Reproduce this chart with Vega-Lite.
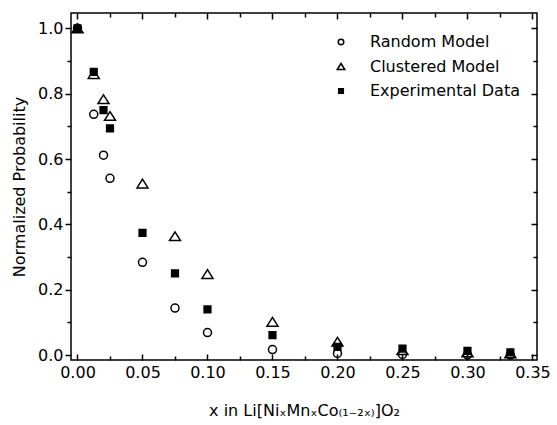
{
  "$schema": "https://vega.github.io/schema/vega-lite/v6.json",
  "autosize": {"type": "none"},
  "padding": {"left": 71, "top": 13, "right": 20, "bottom": 65},
  "width": 466,
  "height": 347,
  "background": "white",
  "config": {
    "font": "DejaVu Sans",
    "view": {"stroke": "black", "strokeWidth": 1.5},
    "axis": {"grid": false, "domain": false, "ticks": true, "tickColor": "#000000", "tickWidth": 1.5, "tickOpacity": 1, "labelColor": "black", "titleColor": "black", "labelFontSize": 16, "titleFontSize": 16, "titleFontWeight": "normal", "labelOverlap": false, "labelFlush": false}
  },
  "data": {
    "values": [
      {"x": 0, "y": 1.0, "series": "Random Model"},
      {"x": 0.0125, "y": 0.737, "series": "Random Model"},
      {"x": 0.02, "y": 0.612, "series": "Random Model"},
      {"x": 0.025, "y": 0.541, "series": "Random Model"},
      {"x": 0.05, "y": 0.284, "series": "Random Model"},
      {"x": 0.075, "y": 0.144, "series": "Random Model"},
      {"x": 0.1, "y": 0.069, "series": "Random Model"},
      {"x": 0.15, "y": 0.017, "series": "Random Model"},
      {"x": 0.2, "y": 0.005, "series": "Random Model"},
      {"x": 0.25, "y": 0.002, "series": "Random Model"},
      {"x": 0.3, "y": 0.001, "series": "Random Model"},
      {"x": 0.333, "y": 0.0, "series": "Random Model"},
      {"x": 0, "y": 1.0, "series": "Clustered Model"},
      {"x": 0.0125, "y": 0.86, "series": "Clustered Model"},
      {"x": 0.02, "y": 0.783, "series": "Clustered Model"},
      {"x": 0.025, "y": 0.732, "series": "Clustered Model"},
      {"x": 0.05, "y": 0.525, "series": "Clustered Model"},
      {"x": 0.075, "y": 0.364, "series": "Clustered Model"},
      {"x": 0.1, "y": 0.248, "series": "Clustered Model"},
      {"x": 0.15, "y": 0.102, "series": "Clustered Model"},
      {"x": 0.2, "y": 0.041, "series": "Clustered Model"},
      {"x": 0.25, "y": 0.015, "series": "Clustered Model"},
      {"x": 0.3, "y": 0.008, "series": "Clustered Model"},
      {"x": 0.333, "y": 0.005, "series": "Clustered Model"},
      {"x": 0, "y": 1.0, "series": "Experimental Data"},
      {"x": 0.0125, "y": 0.867, "series": "Experimental Data"},
      {"x": 0.02, "y": 0.75, "series": "Experimental Data"},
      {"x": 0.025, "y": 0.694, "series": "Experimental Data"},
      {"x": 0.05, "y": 0.374, "series": "Experimental Data"},
      {"x": 0.075, "y": 0.25, "series": "Experimental Data"},
      {"x": 0.1, "y": 0.14, "series": "Experimental Data"},
      {"x": 0.15, "y": 0.061, "series": "Experimental Data"},
      {"x": 0.2, "y": 0.025, "series": "Experimental Data"},
      {"x": 0.25, "y": 0.02, "series": "Experimental Data"},
      {"x": 0.3, "y": 0.013, "series": "Experimental Data"},
      {"x": 0.333, "y": 0.008, "series": "Experimental Data"}
    ]
  },
  "layer": [
    {
      "mark": {"type": "point", "filled": false, "strokeWidth": 1.5, "opacity": 1, "size": 64},
      "encoding": {
        "x": {
          "field": "x", "type": "quantitative",
          "scale": {"domain": [-0.005, 0.3535], "nice": false, "zero": false},
          "axis": {
            "orient": "bottom",
            "title": "x in Li[NiₓMnₓCo₍₁₋₂ₓ₎]O₂",
            "titlePadding": 22,
            "values": [0, 0.05, 0.1, 0.15, 0.2, 0.25, 0.3, 0.35],
            "format": ".2f",
            "tickSize": -6,
            "labelPadding": 10
          }
        },
        "y": {
          "field": "y", "type": "quantitative",
          "scale": {"domain": [-0.015, 1.047], "nice": false, "zero": false},
          "axis": {
            "orient": "left",
            "title": "Normalized Probability",
            "titlePadding": 10,
            "values": [0, 0.2, 0.4, 0.6, 0.8, 1.0],
            "format": ".1f",
            "tickSize": 6,
            "labelPadding": 2
          }
        },
        "shape": {
          "field": "series", "type": "nominal",
          "scale": {"domain": ["Random Model", "Clustered Model", "Experimental Data"], "range": ["circle", "M0,-1.09L1.375,1.09L-1.375,1.09Z", "M-0.84,-0.84H0.84V0.84H-0.84Z"]},
          "legend": {"title": null, "orient": "none", "legendX": 262, "legendY": 21, "symbolSize": 30, "symbolStrokeWidth": 1.5, "labelFontSize": 16, "labelOffset": 21, "rowPadding": 8.5, "padding": 0, "labelColor": "black"}
        },
        "fill": {
          "field": "series", "type": "nominal",
          "scale": {"domain": ["Random Model", "Clustered Model", "Experimental Data"], "range": ["transparent", "transparent", "black"]},
          "legend": {"title": null, "orient": "none", "legendX": 262, "legendY": 21, "symbolSize": 30, "symbolStrokeWidth": 1.5, "labelFontSize": 16, "labelOffset": 21, "rowPadding": 8.5, "padding": 0, "labelColor": "black"}
        },
        "stroke": {
          "field": "series", "type": "nominal",
          "scale": {"domain": ["Random Model", "Clustered Model", "Experimental Data"], "range": ["black", "black", "black"]},
          "legend": {"title": null, "orient": "none", "legendX": 262, "legendY": 21, "symbolSize": 30, "symbolStrokeWidth": 1.5, "labelFontSize": 16, "labelOffset": 21, "rowPadding": 8.5, "padding": 0, "labelColor": "black"}
        }
      }
    },
    {
      "mark": {"type": "point", "opacity": 0},
      "encoding": {
        "x": {
          "field": "x", "type": "quantitative",
          "axis": {"orient": "bottom", "title": null, "labels": false, "values": [0.025, 0.075, 0.125, 0.175, 0.225, 0.275, 0.325], "tickSize": -4}
        },
        "y": {
          "field": "y", "type": "quantitative",
          "axis": {"orient": "left", "title": null, "labels": false, "values": [0.1, 0.3, 0.5, 0.7, 0.9], "tickSize": 4}
        }
      }
    },
    {
      "mark": {"type": "point", "opacity": 0},
      "encoding": {
        "x": {
          "field": "x", "type": "quantitative",
          "axis": {"orient": "top", "title": null, "labels": false, "values": [0, 0.05, 0.1, 0.15, 0.2, 0.25, 0.3, 0.35], "tickSize": -6}
        },
        "y": {
          "field": "y", "type": "quantitative",
          "axis": {"orient": "right", "title": null, "labels": false, "values": [0, 0.2, 0.4, 0.6, 0.8, 1.0], "tickSize": -6}
        }
      }
    },
    {
      "mark": {"type": "point", "opacity": 0},
      "encoding": {
        "x": {
          "field": "x", "type": "quantitative",
          "axis": {"orient": "top", "title": null, "labels": false, "values": [0.025, 0.075, 0.125, 0.175, 0.225, 0.275, 0.325], "tickSize": -4}
        },
        "y": {
          "field": "y", "type": "quantitative",
          "axis": {"orient": "right", "title": null, "labels": false, "values": [0.1, 0.3, 0.5, 0.7, 0.9], "tickSize": -4}
        }
      }
    }
  ],
  "resolve": {"axis": {"x": "independent", "y": "independent"}}
}
